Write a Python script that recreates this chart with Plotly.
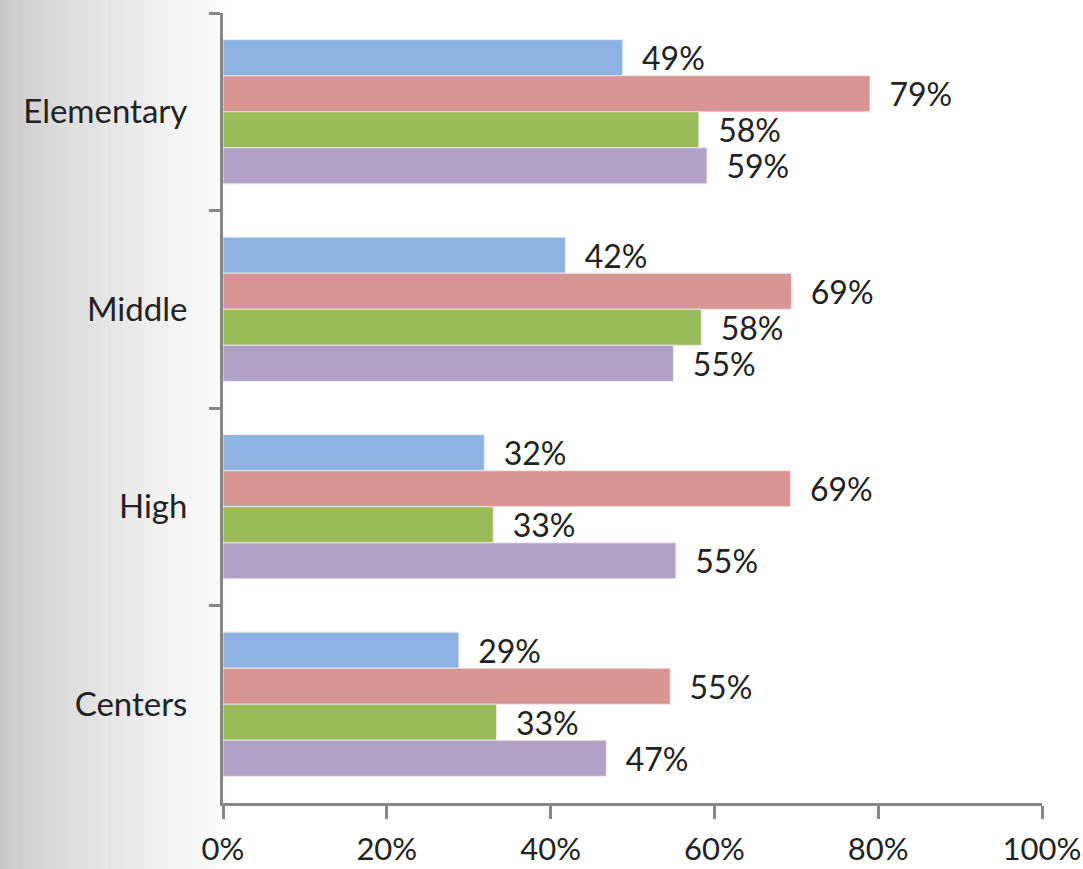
import plotly.graph_objects as go

categories = ["Elementary", "Middle", "High", "Centers"]
series_names = ["Series 1", "Series 2", "Series 3", "Series 4"]
blue_vals = [48.8, 41.8, 31.9, 28.8]
red_vals = [79.0, 69.4, 69.3, 54.6]
green_vals = [58.1, 58.4, 33.0, 33.4]
purple_vals = [59.1, 55.0, 55.3, 46.8]
x_tick_vals = [0, 20, 40, 60, 80, 100]
x_tick_text = ["0%", "20%", "40%", "60%", "80%", "100%"]

colors = ["#8DB3E2", "#D99594", "#9BBB59", "#B2A1C7"]
all_vals = [blue_vals, red_vals, green_vals, purple_vals]

FONT = "Lato, Carlito, Calibri, sans-serif"

fig = go.Figure()
for name, vals, col in zip(series_names, all_vals, colors):
    fig.add_trace(go.Bar(
        y=categories, x=vals, name=name, orientation="h",
        marker=dict(color=col, line=dict(color="rgba(235,235,235,0.9)", width=1)),
        text=[f"\u00a0\u00a0{round(v):d}%" for v in vals],
        textposition="outside", constraintext="none", cliponaxis=False,
        textfont=dict(family=FONT, size=32, color="#222222"),
        hoverinfo="skip",
    ))

W, H = 1083, 869
L, R, T, B = 223, 41, 13, 66
pw = W - L - R
ph = H - T - B

shapes = []
# left-side gradient background
n = 60
gx_end = 245
for i in range(n):
    x0 = gx_end * i / n
    x1 = gx_end * (i + 1) / n
    f = i / (n - 1)
    g = int(round(200 + (255 - 200) * (f ** 0.75)))
    shapes.append(dict(
        type="rect", layer="below", xref="paper", yref="paper",
        x0=(x0 - L) / pw, x1=(x1 - L + 0.6) / pw,
        y0=-(B + 10) / ph, y1=(H - B + 10) / ph,
        fillcolor=f"rgb({g},{g},{g})", line=dict(width=0),
    ))

fig.update_layout(
    width=W, height=H,
    margin=dict(l=L, r=R, t=T, b=B, pad=0, autoexpand=False),
    paper_bgcolor="#ffffff", plot_bgcolor="#ffffff",
    barmode="group", bargap=0.27, bargroupgap=0,
    showlegend=False,
    shapes=shapes,
    font=dict(family=FONT, size=33, color="#222222"),
    xaxis=dict(
        range=[0, 100], tickvals=x_tick_vals, ticktext=x_tick_text,
        showgrid=False, zeroline=False, automargin=False,
        showline=True, linecolor="#878787", linewidth=3,
        ticks="outside", ticklen=13, tickwidth=3, tickcolor="#878787",
        tickfont=dict(family=FONT, size=31, color="#222222"),
        ticklabelstandoff=4,
        fixedrange=True,
    ),
    yaxis=dict(
        autorange="reversed", showgrid=False, zeroline=False, automargin=False,
        showline=True, linecolor="#878787", linewidth=3,
        ticks="outside", ticklen=11, tickwidth=3, tickcolor="#878787",
        tickson="boundaries",
        tickfont=dict(family=FONT, size=33, color="#222222"),
        ticklabelstandoff=26,
        fixedrange=True,
    ),
)

fig.write_html("out.html")
